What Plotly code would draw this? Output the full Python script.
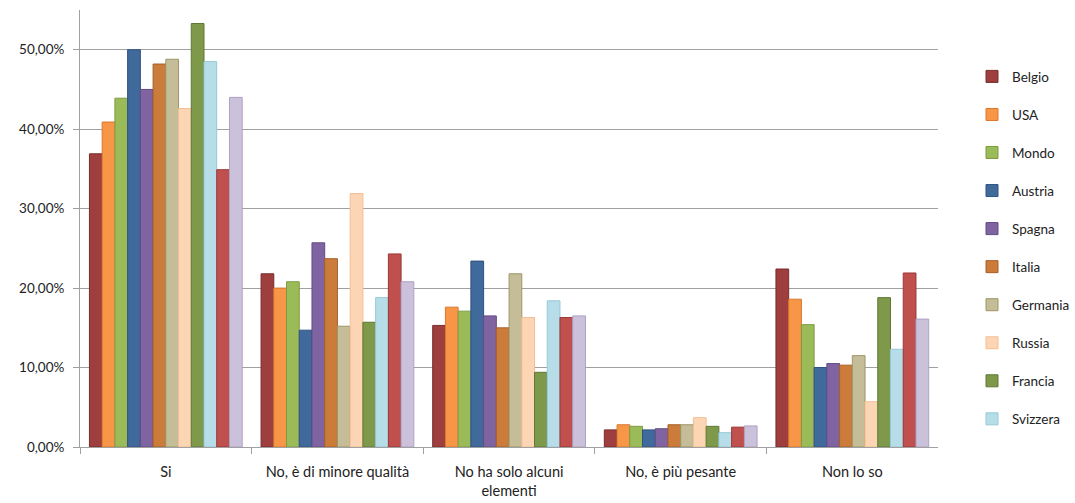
import plotly.graph_objects as go

# Risposte (categorie sull'asse x)
categories = ["Si", "No, è di minore qualità", "No ha solo alcuni<br>elementi",
              "No, è più pesante", "Non lo so"]

# Percentuali per paese, nell'ordine delle categorie
belgio    = [36.9, 21.8, 15.3, 2.15, 22.4]
usa       = [40.9, 20.0, 17.6, 2.8, 18.6]
mondo     = [43.9, 20.8, 17.1, 2.6, 15.4]
austria   = [50.0, 14.7, 23.4, 2.15, 10.0]
spagna    = [45.0, 25.7, 16.5, 2.3, 10.5]
italia    = [48.2, 23.7, 15.0, 2.8, 10.3]
germania  = [48.8, 15.2, 21.8, 2.8, 11.5]
russia    = [42.6, 31.9, 16.3, 3.7, 5.7]
francia   = [53.3, 15.7, 9.4, 2.6, 18.8]
svizzera  = [48.5, 18.8, 18.4, 1.8, 12.3]
serie_11  = [34.9, 24.3, 16.3, 2.5, 21.9]
serie_12  = [44.0, 20.8, 16.5, 2.65, 16.1]

series = [
    ("Belgio", belgio, "#9E3E3E", "#7A2C2C", True),
    ("USA", usa, "#F79646", "#D9782C", True),
    ("Mondo", mondo, "#9BBB59", "#7E9C42", True),
    ("Austria", austria, "#3F6A9B", "#2E5282", True),
    ("Spagna", spagna, "#8064A2", "#634B85", True),
    ("Italia", italia, "#CB7B3A", "#A9602A", True),
    ("Germania", germania, "#C4BD97", "#9E9668", True),
    ("Russia", russia, "#FCD5B5", "#F5BE93", True),
    ("Francia", francia, "#7E994A", "#5F7834", True),
    ("Svizzera", svizzera, "#B7DEE8", "#93C9D8", True),
    ("Serie 11", serie_11, "#C0504D", "#9A3836", False),
    ("Serie 12", serie_12, "#CCC1DA", "#AFA0C4", False),
]

fig = go.Figure()
for i, (name, vals, fill, edge, in_legend) in enumerate(series):
    fig.add_trace(go.Bar(
        x=categories, y=vals, name=name,
        marker=dict(color=fill, line=dict(color=edge, width=1)),
        showlegend=in_legend, legendgroup=f"g{i}",
    ))

# paper spans x 80..1075; the plot occupies 80..939, the legend sits to its right
fig.update_layout(
    width=1075, height=503,
    margin=dict(l=80, r=0, t=10, b=56),
    paper_bgcolor="white", plot_bgcolor="white",
    barmode="group", bargap=0.11, bargroupgap=0,
    separators=",.",
    font=dict(family="Lato, Open Sans, sans-serif", size=13, color="#222"),
    legend=dict(
        x=0.897, y=0.883, xanchor="left", yanchor="top",
        font=dict(size=13.5, color="#222"),
        tracegroupgap=17.5, itemwidth=30,
        bgcolor="rgba(0,0,0,0)",
    ),
    xaxis=dict(
        domain=[0, 859 / 995],
        showline=True, linecolor="#A0A0A0", linewidth=1,
        ticks="outside", tickson="boundaries", ticklen=6, tickcolor="#A0A0A0",
        tickfont=dict(size=14.5, color="#222"),
        ticklabelstandoff=12,
        showgrid=False,
    ),
    yaxis=dict(
        range=[0, 55], dtick=10, tickformat=".2f", ticksuffix="%",
        showline=True, linecolor="#A0A0A0", linewidth=1,
        ticks="outside", ticklen=6, tickcolor="#A0A0A0",
        showgrid=True, gridcolor="#A0A0A0", gridwidth=1,
        tickfont=dict(size=13.5, color="#222"),
        ticklabelstandoff=6,
        zeroline=False,
    ),
)

fig.write_html("out.html")
